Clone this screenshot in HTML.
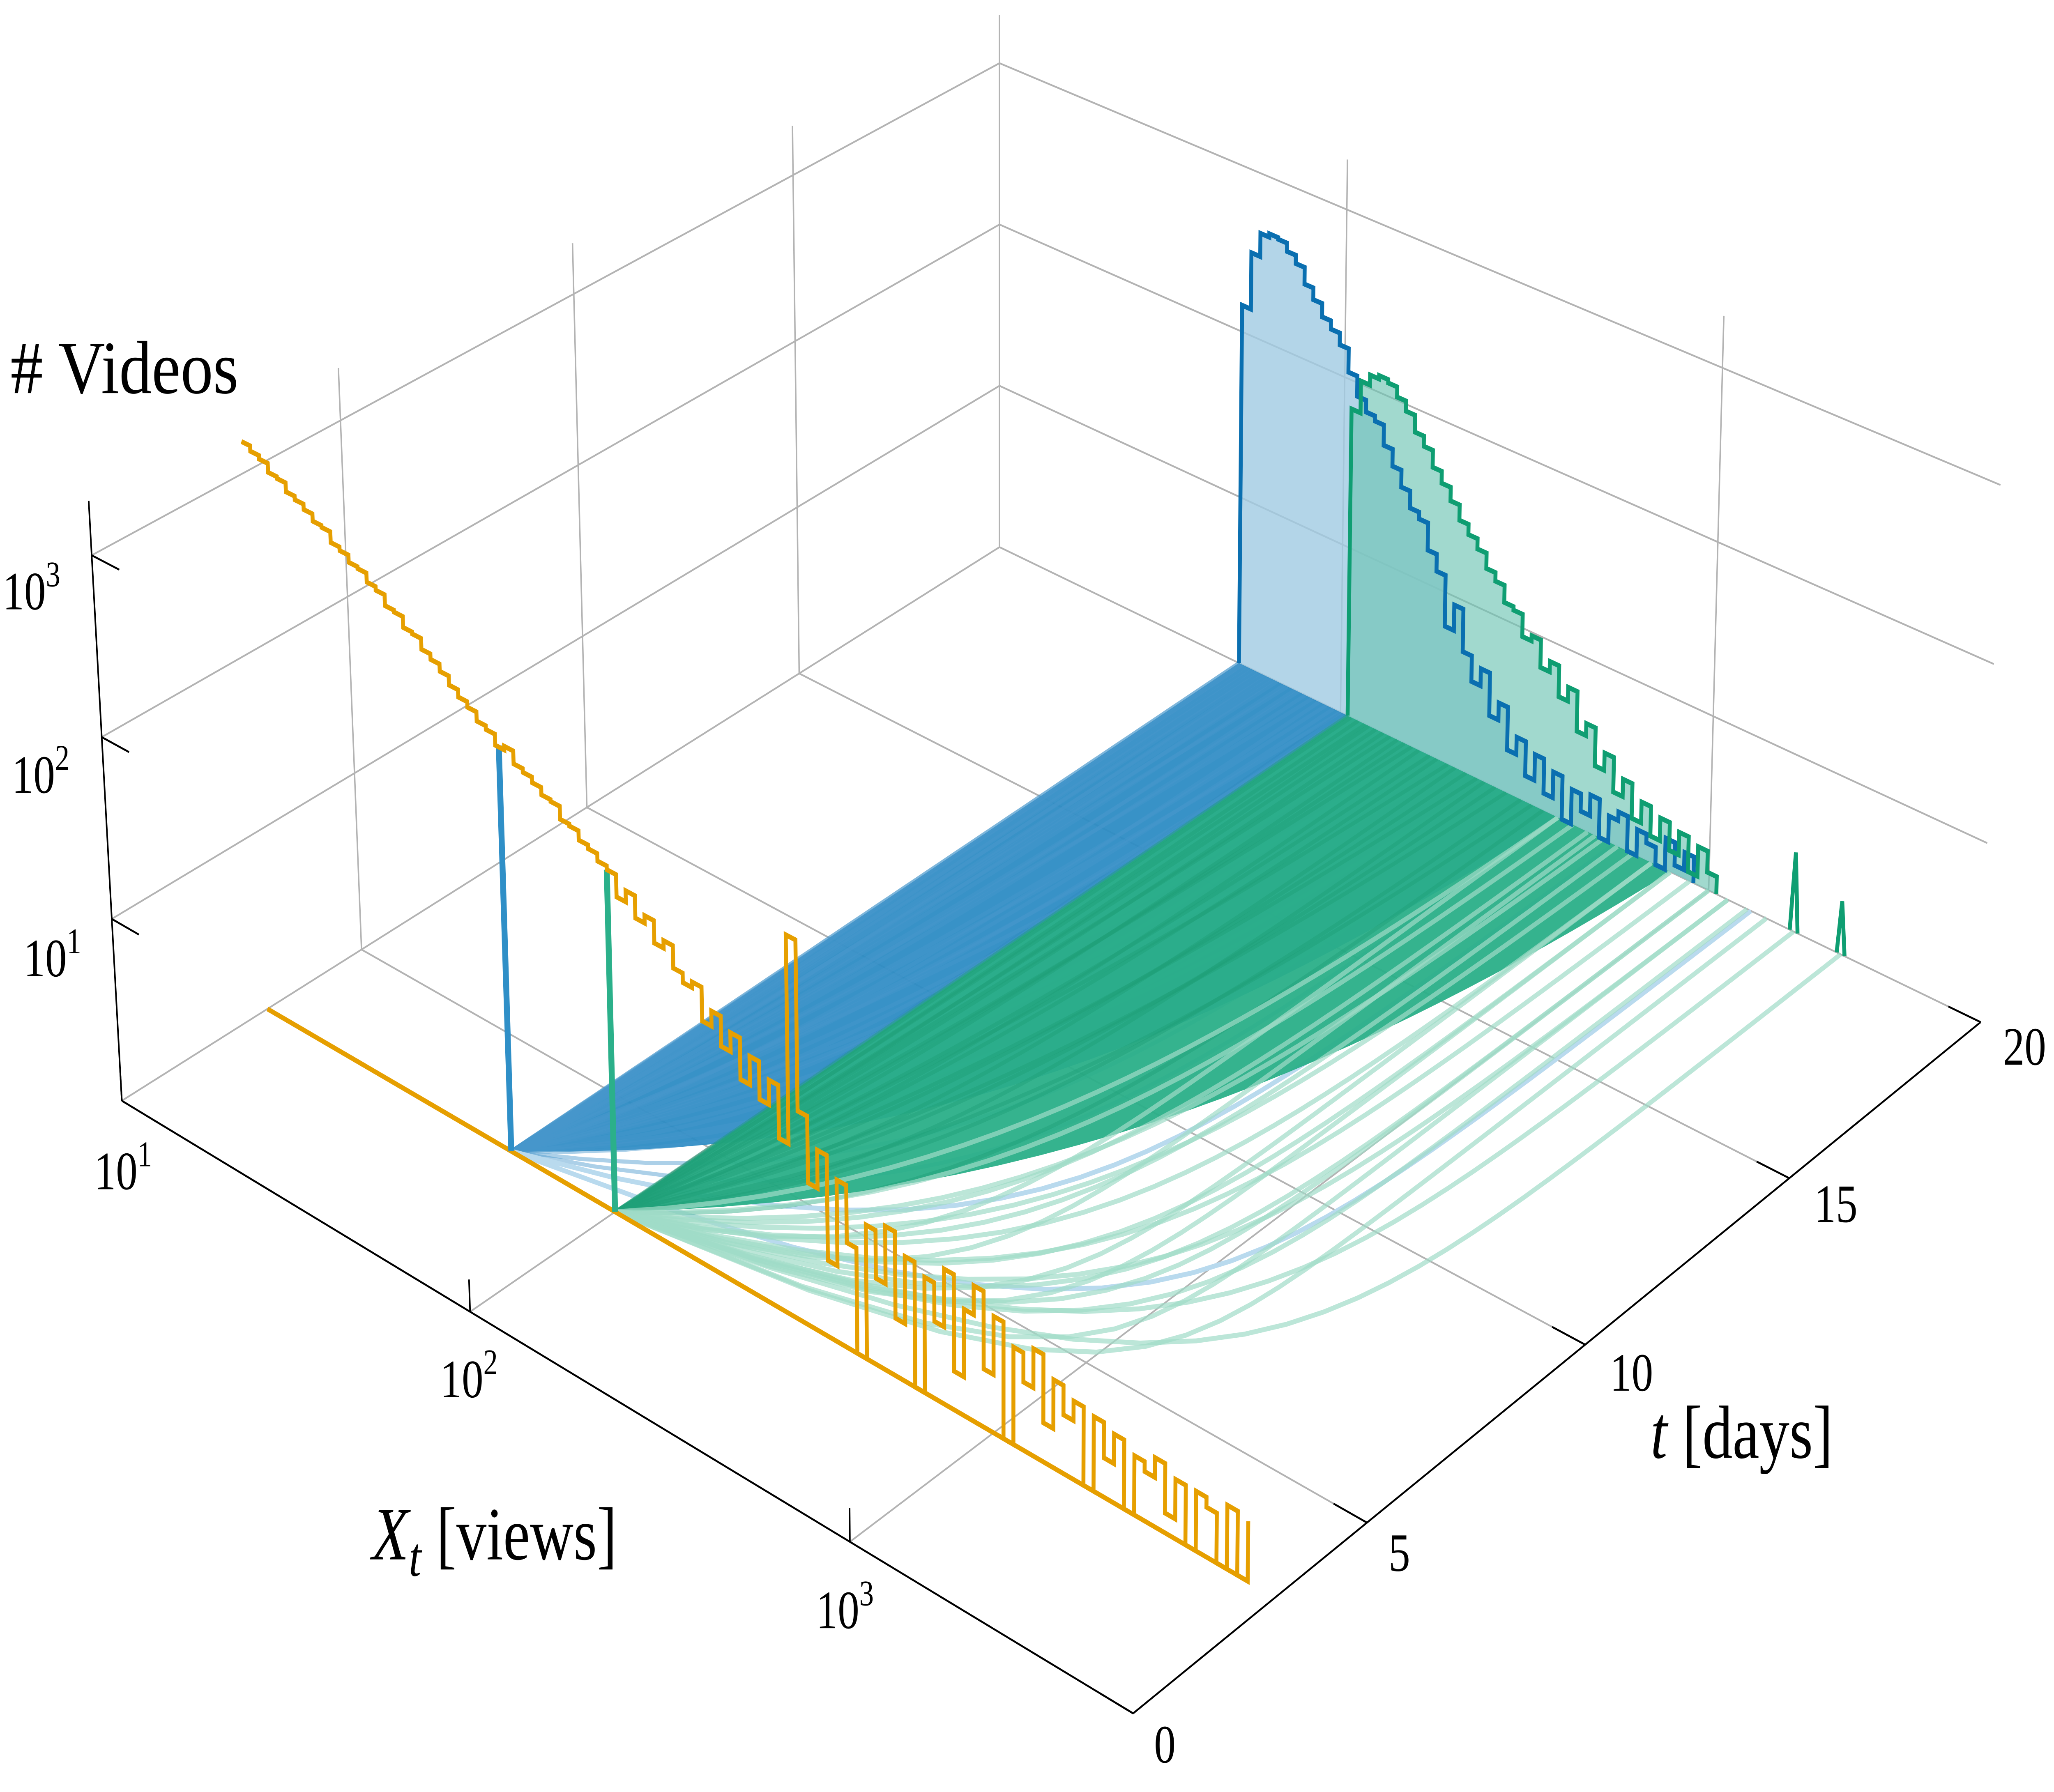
<!DOCTYPE html>
<html><head><meta charset="utf-8"><title>Views distribution 3D</title>
<style>html,body{margin:0;padding:0;background:#fff;overflow:hidden;width:100%;height:100%;}svg{display:block;width:100vw;height:100vh;}</style></head>
<body>
<svg id="chart" xmlns="http://www.w3.org/2000/svg" viewBox="0 0 1568 1094" preserveAspectRatio="none" font-family="'Liberation Serif', serif">
<rect x="0" y="0" width="1568" height="1094" fill="#fff"/>
<g id="grid"></g>
<g id="marks"></g>
<g id="axes"></g>
<text x="8" y="240" font-size="46" textLength="174" lengthAdjust="spacingAndGlyphs"># Videos</text>
<text x="2" y="372" font-size="33">10<tspan dy="-14" font-size="22">3</tspan></text>
<text x="9" y="484" font-size="33">10<tspan dy="-14" font-size="22">2</tspan></text>
<text x="18" y="596" font-size="33">10<tspan dy="-14" font-size="22">1</tspan></text>
<text x="72" y="726" font-size="33">10<tspan dy="-14" font-size="22">1</tspan></text>
<text x="336" y="853" font-size="33">10<tspan dy="-14" font-size="22">2</tspan></text>
<text x="623" y="994" font-size="33">10<tspan dy="-14" font-size="22">3</tspan></text>
<text x="284" y="952" font-size="46"><tspan font-style="italic">X</tspan><tspan font-style="italic" font-size="34" dy="10">t</tspan><tspan dy="-10"> [views]</tspan></text>
<text x="881" y="1076" font-size="33">0</text>
<text x="1060" y="959" font-size="33">5</text>
<text x="1229" y="849" font-size="33">10</text>
<text x="1385" y="746" font-size="33">15</text>
<text x="1529" y="650" font-size="33">20</text>
<text x="1260" y="890" font-size="46"><tspan font-style="italic">t</tspan> [days]</text>
</svg>
<script>
// ---------------- data ----------------
const orangeT = 3;
const orangeXlStart = 1.0;
const orangeXlStep = 0.025;
const orangeZ = [3.18,3.15,3.13,3.08,3.07,3.02,3.00,2.97,2.93,2.92,2.86,2.84,2.80,2.79,2.74,2.72,2.66,2.65,2.59,2.58,
2.52,2.49,2.45,2.40,2.36,2.33,2.28,2.26,2.20,2.22,2.15,2.13,2.10,2.06,2.05,1.98,1.97,1.92,1.90,1.86,
1.84,1.72,1.78,1.66,1.70,1.58,1.62,1.50,1.45,1.48,1.30,1.38,1.22,1.32,1.10,1.25,1.05,1.18,0.90,2.00,
1.10,0.75,0.95,0.40,0.85,0.55,0.00,0.70,0.45,0.75,0.30,0.65,0.00,0.60,0.40,0.70,0.20,0.55,0.70,0.30,
0.60,0.00,0.50,0.35,0.55,0.20,0.45,0.30,0.40,0.00,0.38,0.20,0.35,0.00,0.30,0.25,0.35,0.10,0.30,0.00,
0.30,0.25,0.00,0.32,0.00,0.30];
const blueXlStart = 1.71;
const blueXlStep = 0.025;
const blueZ = [2.16,2.50,2.64,2.66,2.65,2.60,2.55,2.45,2.38,2.30,2.25,2.18,2.04,1.92,1.85,1.82,1.70,1.60,1.50,1.40,
1.36,1.20,1.10,0.80,0.95,0.70,0.55,0.65,0.40,0.50,0.25,0.35,0.15,0.30,0.10,0.25,0.00,0.20,0.10,0.22,
0.00,0.15,0.20,0.00,0.15,0.10,0.00,0.18,0.05,0.15,0.00];
const greenXlStart = 2.02;
const greenXlStep = 0.025;
const greenZ = [1.83,2.02,2.08,2.10,2.08,2.02,1.96,1.86,1.80,1.70,1.63,1.55,1.46,1.40,1.34,1.25,1.20,1.10,1.08,0.95,
0.98,0.82,0.88,0.70,0.78,0.55,0.62,0.40,0.50,0.30,0.40,0.20,0.32,0.15,0.28,0.12,0.25,0.05,0.22,0.10,0.00];
const greenBlipXl = [3.22, 3.34];
const greenBlipZ = [0.45, 0.30];
const blueStartXl = 1.71;
const blueEnd = [1.71,1.71,1.72,1.72,1.73,1.74,1.75,1.76,1.77,1.78,1.79,1.80,1.81,1.82,1.84,1.85,1.87,1.88,1.90,1.92,
1.94,1.96,1.98,2.00,2.02,2.05,2.07,2.10,2.12,2.15,2.18,2.21,2.24,2.28,2.31,2.35,2.40,2.45,2.52,2.60];
const blueK = [0,1,2,0.5,1.5,3,1,2.5,0.8,4,1.2,2,3.5,1,2.2,0.6,3,1.8,2.5,1.2,
4,2,3,1.5,2.8,1.9,3.6,2.4,1.3,3.2,2.6,4.2,1.7,3,2.2,4.5,3.4,2.8,5,6];
const blueFaintEnd = [3.11, 2.75];
const blueFaintK = [9, 7];
const greenStartXl = 2.0;
const greenEnd = [2.02,2.03,2.05,2.07,2.08,2.10,2.12,2.14,2.16,2.18,2.20,2.22,2.25,2.27,2.30,2.32,2.35,2.38,2.40,2.43,
2.46,2.50,2.53,2.56,2.60,2.64,2.68,2.72,2.76,2.80,2.85,2.90,2.95,3.00,3.05,3.10,3.22,3.34,2.70,2.90,
3.00,3.15,2.85,2.60,3.05];
const greenK = [0,1,2,0.8,3,1.5,2.5,1,3.5,2,1.2,4,2.2,3,1.6,4.5,2.8,2,5,3.2,
2.4,4,3,5.5,3.6,4.5,6,5,7,5.5,6.5,8,7,9,7.5,10,8,9,12,14,
11,15,13,10,16];
const xTicks = [1, 2, 3];
const zTicks = [1, 2, 3];
const tTicks = [0, 5, 10, 15, 20];

// ---------------- projection ----------------
const XL_MIN = 1, U_PER_DEC = 0.3716, XL_MAX = 1 + 1 / U_PER_DEC, T_MAX = 20, Z_MAX = 3.3;
const Q = [[93,672],[865,1046],[1512,624],[763,334]];
const sx = Q[0][0]-Q[1][0]+Q[2][0]-Q[3][0], sy = Q[0][1]-Q[1][1]+Q[2][1]-Q[3][1];
const dx1 = Q[1][0]-Q[2][0], dx2 = Q[3][0]-Q[2][0], dy1 = Q[1][1]-Q[2][1], dy2 = Q[3][1]-Q[2][1];
const den = dx1*dy2 - dx2*dy1;
const HG = (sx*dy2 - dx2*sy)/den, HH = (dx1*sy - sx*dy1)/den;
const HA = Q[1][0]-Q[0][0]+HG*Q[1][0], HB = Q[3][0]-Q[0][0]+HH*Q[3][0], HC = Q[0][0];
const HD = Q[1][1]-Q[0][1]+HG*Q[1][1], HE = Q[3][1]-Q[0][1]+HH*Q[3][1], HF = Q[0][1];
function P(xl, t, z) {
  const u = (xl - XL_MIN) * U_PER_DEC, v = t / T_MAX;
  const w = HG*u + HH*v + 1;
  const x = (HA*u + HB*v + HC)/w, y = (HD*u + HE*v + HF)/w;
  const hp = (z || 0) * 111 / w;
  const lean = (x - 763) / (10370 - y) * (x > 763 ? 0.6 : 1);
  return [x + lean*hp, y - hp];
}
function pts(arr) { return arr.map(p => p[0].toFixed(2)+','+p[1].toFixed(2)).join(' '); }

const NS = 'http://www.w3.org/2000/svg';
function mk(parent, tag, name, attrs) {
  const el = document.createElementNS(NS, tag);
  
  
  for (const k in attrs) el.setAttribute(k, attrs[k]);
  document.getElementById(parent).appendChild(el);
  return el;
}
function seg(parent, name, a, b, stroke, sw) {
  return mk(parent, 'line', name, {x1:a[0],y1:a[1],x2:b[0],y2:b[1],stroke:stroke,'stroke-width':sw});
}
const GRID = '#b3b3b3';

seg('grid','floor-left-edge',P(XL_MIN,0,0),P(XL_MIN,T_MAX,0),GRID,1.1);
seg('grid','floor-back-edge',P(XL_MIN,T_MAX,0),P(XL_MAX,T_MAX,0),GRID,1.1);
[2,3].forEach(xl => seg('grid','floor-grid-x',P(xl,0,0),P(xl,T_MAX,0),GRID,1.1));
[5,10,15].forEach(t => seg('grid','floor-grid-t',P(XL_MIN,t,0),P(XL_MAX,t,0),GRID,1.1));
[5,10,15,20].forEach(t => seg('grid','left-wall-vertical',P(XL_MIN,t,0),P(XL_MIN,t,Z_MAX),GRID,1.1));
zTicks.forEach(z => seg('grid','left-wall-horizontal',P(XL_MIN,0,z),P(XL_MIN,T_MAX,z),GRID,1.1));
[2,3].forEach(xl => seg('grid','back-wall-vertical',P(xl,T_MAX,0),P(xl,T_MAX,Z_MAX),GRID,1.1));
zTicks.forEach(z => seg('grid','back-wall-horizontal',P(XL_MIN,T_MAX,z),P(XL_MAX,T_MAX,z),GRID,1.1));

function traj(x0, xe, k) {
  const out = [];
  for (let i = 0; i <= 30; i++) {
    const s = i/30;
    const g = k < 0.01 ? s : (1 - Math.exp(-k*s)) / (1 - Math.exp(-k));
    out.push(P(x0 + (xe - x0)*g, orangeT + (T_MAX - orangeT)*s, 0));
  }
  return out;
}
{
  const top = traj(blueStartXl, blueEnd[0], blueK[0]);
  const bot = traj(blueStartXl, blueEnd[blueEnd.length-1], 3).reverse();
  mk('marks','polygon','blue-trajectory-band',{points:pts(top.concat(bot)),fill:'rgb(45,140,196)','fill-opacity':0.95,stroke:'none'});
}
for (let i = 0; i < blueEnd.length; i++) {
  mk('marks','polyline','blue-trajectory',{points:pts(traj(blueStartXl, blueEnd[i], blueK[i])),fill:'none',stroke:'rgb(70,150,205)','stroke-opacity':0.45,'stroke-width':2.5});
}
for (let i = 0; i < blueFaintEnd.length; i++) {
  mk('marks','polyline','blue-faint-trajectory',{points:pts(traj(blueStartXl, blueFaintEnd[i], blueFaintK[i])),fill:'none',stroke:'rgb(185,218,238)','stroke-width':3});
}
{
  const top = traj(greenStartXl, greenEnd[0], greenK[0]);
  const bot = traj(greenStartXl, 2.9, 2.5).reverse();
  mk('marks','polygon','green-trajectory-band',{points:pts(top.concat(bot)),fill:'rgb(42,175,136)','fill-opacity':0.95,stroke:'none'});
}
for (let i = 0; i < greenEnd.length; i++) {
  const faint = i >= 24;
  mk('marks','polyline','green-trajectory',{points:pts(traj(greenStartXl, greenEnd[i], greenK[i])),fill:'none',stroke:faint?'rgb(160,220,200)':'rgb(30,160,120)','stroke-opacity':faint?0.7:0.45,'stroke-width':faint?3:2.5});
}

function distPts(start, step, zs, t) {
  const out = [P(start, t, 0)];
  zs.forEach((z, i) => {
    const xl = start + i*step;
    if (i > 0) out.push(P(xl, t, zs[i-1]));
    out.push(P(xl, t, z));
  });
  out.push(P(start + (zs.length-1)*step, t, 0));
  return out;
}
const bluePts = distPts(blueXlStart, blueXlStep, blueZ, T_MAX);
const greenPts = distPts(greenXlStart, greenXlStep, greenZ, T_MAX);
mk('marks','polygon','blue-distribution-fill',{points:pts(bluePts),fill:'rgb(160,202,226)','fill-opacity':0.8,stroke:'none'});
mk('marks','polygon','green-distribution-fill',{points:pts(greenPts),fill:'rgb(110,196,180)','fill-opacity':0.65,stroke:'none'});
mk('marks','polyline','blue-distribution-t20',{points:pts(bluePts),fill:'none',stroke:'#0a6fb0','stroke-width':3,'stroke-linejoin':'miter'});
mk('marks','polyline','green-distribution-t20',{points:pts(greenPts),fill:'none',stroke:'#0f9e72','stroke-width':3,'stroke-linejoin':'miter'});
for (let i = 0; i < greenBlipXl.length; i++) {
  mk('marks','polyline','green-blip',{points:pts([P(greenBlipXl[i]-0.01,T_MAX,0),P(greenBlipXl[i],T_MAX,greenBlipZ[i]),P(greenBlipXl[i]+0.01,T_MAX,0)]),fill:'none',stroke:'#0f9e72','stroke-width':3});
}

function orangeAt(xl) {
  const f = (xl - orangeXlStart)/orangeXlStep, i = Math.floor(f), r = f - i;
  return orangeZ[i]*(1-r) + orangeZ[Math.min(i+1, orangeZ.length-1)]*r;
}
const orangeEndXl = orangeXlStart + (orangeZ.length-1)*orangeXlStep;
seg('marks','orange-floor-line',P(orangeXlStart,orangeT,0),P(orangeEndXl,orangeT,0),'#e69f00',3);
seg('marks','blue-start-marker',P(blueStartXl,orangeT,0),P(blueStartXl,orangeT,orangeAt(blueStartXl)),'#2f8fc7',4.5);
seg('marks','green-start-marker',P(greenStartXl,orangeT,0),P(greenStartXl,orangeT,orangeAt(greenStartXl)),'#2bb08a',4.5);
{
  const op = [];
  orangeZ.forEach((z, i) => {
    const xl = orangeXlStart + i*orangeXlStep;
    if (i > 0) op.push(P(xl, orangeT, orangeZ[i-1]));
    op.push(P(xl, orangeT, z));
  });
  mk('marks','polyline','orange-distribution-t3',{points:pts(op),fill:'none',stroke:'#e69f00','stroke-width':3});
}

seg('axes','x-axis-line',P(XL_MIN,0,0),P(XL_MAX,0,0),'#000',1.2);
seg('axes','t-axis-line',P(XL_MAX,0,0),P(XL_MAX,T_MAX,0),'#000',1.2);
seg('axes','z-axis-line',P(XL_MIN,0,0),P(XL_MIN,0,Z_MAX),'#000',1.2);
xTicks.forEach(xl => seg('axes','x-tick-mark',P(xl,0,0),P(xl,0,0.17),'#000',1.2));
zTicks.forEach(z => seg('axes','z-tick-mark',P(XL_MIN,0,z),P(XL_MIN+0.08,0,z),'#000',1.2));
tTicks.forEach(t => seg('axes','t-tick-mark',P(XL_MAX,t,0),P(XL_MAX-0.08,t,0),'#000',1.2));
</script>
</body></html>
